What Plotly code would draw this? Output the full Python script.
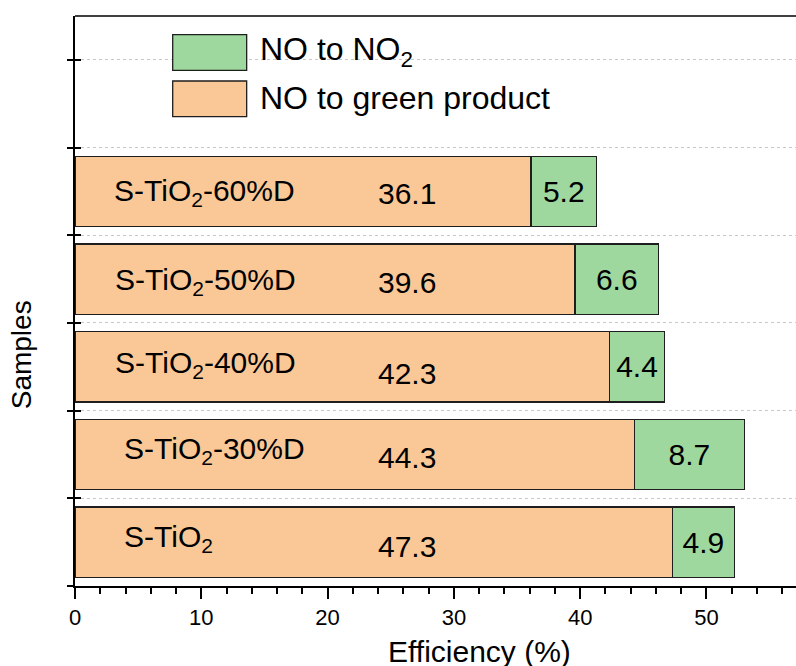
import plotly.graph_objects as go

# ---- data ----
samples = ["S-TiO2", "S-TiO2-30%D", "S-TiO2-40%D", "S-TiO2-50%D", "S-TiO2-60%D"]
no_to_green = [47.3, 44.3, 42.3, 39.6, 36.1]
no_to_no2 = [4.9, 8.7, 4.4, 6.6, 5.2]
x_ticks = [0, 10, 20, 30, 40, 50]

# ---- styling / layout positions ----
FONT = "Arial, 'Liberation Sans', Helvetica, sans-serif"
ORANGE = "#FAC897"
GREEN = "#9FD89E"
EDGE = "#1e1e1e"
label_x = [3.7, 3.7, 3.0, 3.0, 2.9]
label_yshift = [4, 4, 2, -2, -1]
value_x = 26.3
value_yshift = [-4, -3, -7, -3, -2]

ypos = list(range(len(samples)))
disp = [s.replace("TiO2", "TiO<sub>2</sub>") for s in samples]

fig = go.Figure()
fig.add_trace(go.Bar(
    y=ypos, x=no_to_green, orientation="h", width=0.8,
    marker=dict(color=ORANGE, line=dict(color=EDGE, width=1.3)),
    name="NO to green product", showlegend=False, hoverinfo="x",
))
fig.add_trace(go.Bar(
    y=ypos, x=no_to_no2, orientation="h", width=0.8,
    marker=dict(color=GREEN, line=dict(color=EDGE, width=1.3)),
    name="NO to NO<sub>2</sub>", showlegend=False,
    text=[f"{v:.1f}" for v in no_to_no2], textposition="inside",
    insidetextanchor="middle", constraintext="none",
    textfont=dict(family=FONT, size=30, color="black"), hoverinfo="x",
))
# dummy trace to render inner half of crossing y ticks
fig.add_trace(go.Scatter(x=[None], y=[None], yaxis="y2", showlegend=False, hoverinfo="skip"))

ann = []
for i, (lab, v) in enumerate(zip(disp, no_to_green)):
    ann.append(dict(x=label_x[i], y=ypos[i], xref="x", yref="y", text=lab,
                    showarrow=False, xanchor="left", yanchor="middle",
                    yshift=label_yshift[i], font=dict(family=FONT, size=30, color="black")))
    ann.append(dict(x=value_x, y=ypos[i], xref="x", yref="y", text=f"{v:.1f}",
                    showarrow=False, xanchor="center", yanchor="middle",
                    yshift=value_yshift[i], font=dict(family=FONT, size=30, color="black")))

# axis titles
ann.append(dict(x=0.5617, y=-0.1146, xref="paper", yref="paper", text="Efficiency (%)",
                showarrow=False, xanchor="center", yanchor="middle",
                font=dict(family=FONT, size=30, color="black")))
ann.append(dict(x=-0.0749, y=0.4065, xref="paper", yref="paper", text="Samples",
                showarrow=False, xanchor="center", yanchor="middle", textangle=-90,
                font=dict(family=FONT, size=28, color="black")))

# legend (manual, large swatches)
leg = [("NO to NO<sub>2</sub>", GREEN, 0.9047, 0.9674, 0.9375),
       ("NO to green product", ORANGE, 0.8235, 0.8860, 0.8561)]
shapes = []
for txt, col, y0, y1, ym in leg:
    shapes.append(dict(type="rect", xref="paper", yref="paper", x0=0.1355, x1=0.2381,
                       y0=y0, y1=y1, fillcolor=col, line=dict(color=EDGE, width=1.3)))
    ann.append(dict(x=0.2534, y=ym, xref="paper", yref="paper", text=txt, showarrow=False,
                    xanchor="left", yanchor="middle", font=dict(family=FONT, size=32, color="black")))
# top frame line
shapes.append(dict(type="line", xref="paper", yref="paper", x0=0, x1=1, y0=1, y1=1,
                   line=dict(color="black", width=1.6)))

ytv = [k - 0.5 for k in range(len(samples) + 2)]
fig.update_layout(
    width=796, height=666, barmode="stack",
    margin=dict(l=75, r=0, t=16, b=80),
    plot_bgcolor="white", paper_bgcolor="white",
    font=dict(family=FONT, size=22, color="black"),
    showlegend=False,
    xaxis=dict(range=[0, 57.09], tickvals=x_ticks, ticks="outside", ticklen=11, tickwidth=2,
               tickcolor="black", showline=True, linecolor="black", linewidth=2,
               showgrid=False, zeroline=False, tickfont=dict(size=22),
               minor=dict(dtick=2, ticks="outside", ticklen=6, tickwidth=1.5, tickcolor="black")),
    yaxis=dict(range=[-0.5, 6.0], tickvals=ytv, showticklabels=False, ticks="outside",
               ticklen=6, tickwidth=1.8, tickcolor="black", showline=True, linecolor="black",
               linewidth=2, showgrid=True, gridcolor="#c8c8c8", griddash="dot", gridwidth=1,
               zeroline=False),
    yaxis2=dict(range=[-0.5, 6.0], overlaying="y", side="left", tickvals=ytv,
                showticklabels=False, ticks="inside", ticklen=6, tickwidth=1.8,
                tickcolor="black", showline=False, showgrid=False, zeroline=False),
    annotations=ann, shapes=shapes,
)
fig.write_html(
    "out.html",
    config={"displayModeBar": False},
    post_script="document.body.style.margin='0';document.documentElement.style.margin='0';"
                "document.body.style.overflow='hidden';",
)
